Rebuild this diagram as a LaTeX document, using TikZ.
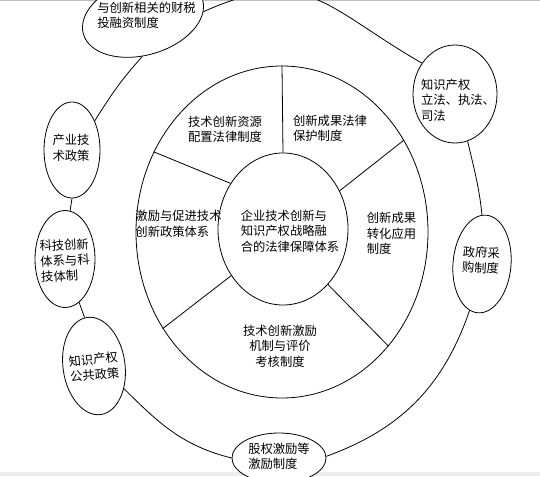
\documentclass[tikz,border=0pt]{standalone}
\usepackage{fontspec}
\newfontfamily\cjk{Noto Sans CJK SC}
\usepackage{tikz}
\usetikzlibrary{shapes.geometric}
\tikzset{ring/.style={draw,ellipse,inner sep=0},policy/.style={draw,ellipse,fill=white,inner sep=0},txt/.style={font=\cjk\fontsize{12.3}{15.5}\selectfont,align=left,inner sep=0}}

\begin{document}
\begin{tikzpicture}[x=1pt,y=1pt,line width=.8pt]

\useasboundingbox (0,0) rectangle (540,-476);

% Page edges
\draw[black!25] (0,-.5) -- (540,-.5);
\fill[black!7] (0,-472) rectangle (540,-476);

% The two inner rings
\node[ring,minimum width=292,minimum height=332] (frame) at (282,-232) {};
\node[ring,minimum width=130,minimum height=152] (core) at (283,-229) {};

% Spokes
\draw (core.north) -- (frame.north);
\draw (core.34) -- (frame.37);
\draw (core.-51) -- (frame.-47);
\draw (core.222) -- (frame.219);
\draw (core.139) -- (frame.148);

% Texts of the inner rings
\node[txt] (system) at (290,-231) {企业技术创新与\\知识产权战略融\\合的法律保障体系};
\node[txt] (allocation) at (225,-129.5) {技术创新资源\\配置法律制度};
\node[txt] (protection) at (330,-128.5) {创新成果法律\\保护制度};
\node[txt] (transfer) at (391.5,-233.5) {创新成果\\转化应用\\制度};
\node[txt] (incentive) at (178.5,-224) {激励与促进技术\\创新政策体系};
\node[txt,align=center] (evaluation) at (280,-346) {技术创新激励\\机制与评价\\考核制度};

% The outer policies
\node[policy,minimum width=124,minimum height=76,rotate=16] (fiscal) at (143,-17) {};
\node[policy,minimum width=56,minimum height=96] (industry) at (72,-150) {};
\node[policy,minimum width=60,minimum height=97] (sci-tech) at (65,-259) {};
\node[policy,minimum width=62,minimum height=98,rotate=8] (ipr-policy) at (94,-366) {};
\node[policy,minimum width=94,minimum height=50] (equity) at (279,-458) {};
\node[policy,minimum width=58,minimum height=98,rotate=-5] (gov) at (482,-264) {};
\node[policy,minimum width=84,minimum height=98] (ipr-law) at (455,-94) {};

\node[txt] (fiscal-text) at (146.5,-15.5) {与创新相关的财税\\投融资制度};
\node[txt,align=center] (industry-text) at (71,-148) {产业技\\术政策};
\node[txt,rotate=3] (sci-tech-text) at (65,-260.5) {科技创新\\体系与科\\技体制};
\node[txt,align=center,rotate=5] (ipr-policy-text) at (94,-367) {知识产权\\公共政策};
\node[txt] (equity-text) at (279,-456.5) {股权激励等\\激励制度};
\node[txt,align=center,rotate=-3] (gov-text) at (481,-260) {政府采\\购制度};
\node[txt] (ipr-law-text) at (458,-100) {知识产权\\立法、执法、\\司法};

% The outer ring
\draw (fiscal.-11) to[out=24,in=150,looseness=1.3] (ipr-law.137);
\draw (ipr-law.-75) to[out=-77,in=96] (gov.95);
\draw (gov.-100) to[out=-109,in=20] (equity.2);
\draw (equity.west) to[out=166,in=-45] (ipr-policy.-45);
\draw (ipr-policy.93) -- (sci-tech.-72);
\draw (sci-tech.84) -- (industry.south);
\draw (industry.52) to[out=58,in=-132] (fiscal.-107);

\end{tikzpicture}
\end{document}
